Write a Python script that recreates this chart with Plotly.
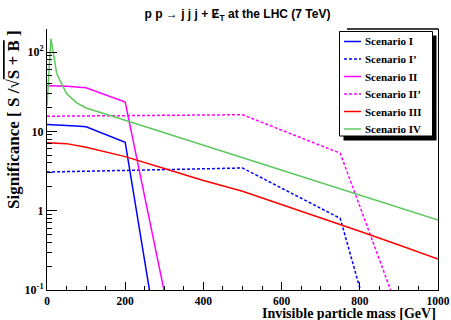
import plotly.graph_objects as go

# ---- data ----
mass_I = [0, 25, 50, 75, 100, 200, 250, 300]
sig_I = [12.2, 12.1, 11.9, 11.7, 11.4, 7.3, 0.23, 0.0072]

mass_Ip = [0, 100, 200, 300, 400, 500, 750, 800, 850]
sig_Ip = [3.07, 3.15, 3.25, 3.35, 3.42, 3.45, 0.80, 0.109, 0.014]

mass_II = [0, 50, 100, 200, 300]
sig_II = [37.5, 37.0, 35.5, 23.4, 0.095]

mass_IIp = [0, 100, 200, 300, 400, 500, 750, 800, 900]
sig_IIp = [15.5, 15.7, 15.9, 16.1, 16.2, 16.2, 5.3, 1.14, 0.052]

mass_III = [0, 50, 100, 200, 300, 400, 500, 600, 700, 800, 900, 1000]
sig_III = [7.2, 7.0, 6.3, 4.8, 3.4, 2.4, 1.76, 1.2, 0.82, 0.55, 0.37, 0.245]

mass_IV = [0, 10, 25, 50, 75, 100, 200, 300, 400, 500, 600, 700, 800, 900, 1000]
sig_IV = [21, 147, 53, 30, 23, 19.7, 13.8, 9.6, 6.7, 4.7, 3.27, 2.27, 1.58, 1.1, 0.76]

y_tickvals = [0.1, 1, 10, 100]
y_ticktext = ["<b>10<sup>-1</sup></b>", "<b>1</b>", "<b>10</b>", "<b>10<sup>2</sup></b>"]
x_tickvals = [0, 200, 400, 600, 800, 1000]
x_ticktext = ["<b>0</b>", "<b>200</b>", "<b>400</b>", "<b>600</b>", "<b>800</b>", "<b>1000</b>"]

names = ["Scenario I", "Scenario I\u2019", "Scenario II", "Scenario II\u2019", "Scenario III", "Scenario IV"]
masses = [mass_I, mass_Ip, mass_II, mass_IIp, mass_III, mass_IV]
sigs = [sig_I, sig_Ip, sig_II, sig_IIp, sig_III, sig_IV]
colors = ["#0000ff", "#0000ff", "#ff00ff", "#ff00ff", "#ff0000", "#5cc85c"]
dashes = ["solid", "3px,2px", "solid", "3px,2px", "solid", "solid"]

W, H = 451, 320
L, R, T, B = 47, 13, 29, 30
PW, PH = W - L - R, H - T - B


def px_x(px):
    return (px - L) / PW


def px_y(py):
    return (H - B - py) / PH


fig = go.Figure()
for name, x, y, col, dash in zip(names, masses, sigs, colors, dashes):
    fig.add_trace(go.Scatter(x=x, y=y, mode="lines", name=name,
                             line=dict(color=col, width=1.5, dash=dash)))

serif = "Liberation Serif"
fig.update_layout(
    width=W, height=H,
    margin=dict(l=L, r=R, t=T, b=B, autoexpand=False),
    paper_bgcolor="white", plot_bgcolor="white",
    showlegend=False,
    title=dict(text="<b>p p \u2192 j j j + \u0246<sub>T</sub> at the LHC (7 TeV)</b>",
               x=237.5 / W, xanchor="center", y=1 - 14 / H, yanchor="middle",
               font=dict(family="Liberation Sans", size=12, color="black")),
    xaxis=dict(range=[0, 1000], tickvals=x_tickvals, ticktext=x_ticktext, automargin=False,
               ticks="inside", ticklen=8, tickwidth=1, tickcolor="black",
               showline=True, linecolor="black", linewidth=1, mirror=False,
               showgrid=False, zeroline=False,
               tickfont=dict(family=serif, size=11.5, color="black"),
               minor=dict(ticks="inside", ticklen=4, dtick=50, tickcolor="black", showgrid=False),
               title=None),
    yaxis=dict(type="log", range=[-1, 2.29], tickvals=y_tickvals, ticktext=y_ticktext, automargin=False,
               ticks="inside", ticklen=10, tickwidth=1, tickcolor="black",
               showline=True, linecolor="black", linewidth=1, mirror=True,
               showgrid=False, zeroline=False,
               tickfont=dict(family=serif, size=12, color="black"),
               minor=dict(ticks="inside", ticklen=5, dtick="D1", tickcolor="black", showgrid=False),
               title=None),
)

# axis titles (ROOT style: aligned to the axis end)
fig.add_annotation(text="<b>Invisible particle mass [GeV]</b>", xref="paper", yref="paper",
                   x=px_x(438), y=px_y(314), xanchor="right", yanchor="middle", showarrow=False,
                   font=dict(family=serif, size=14, color="black"))
fig.add_annotation(text="<b>Significance [ S /\u221a<span style='text-decoration:overline'>S + B</span> ]</b>",
                   xref="paper", yref="paper", x=px_x(2), y=px_y(28), xanchor="left", yanchor="top",
                   textangle=-90, showarrow=False,
                   font=dict(family=serif, size=17, color="black"))

# partial top frame
fig.add_shape(type="line", xref="paper", yref="paper", x0=px_x(347), x1=px_x(438.5),
              y0=px_y(29), y1=px_y(29), line=dict(color="black", width=1.5))

# legend drawn by hand: shadow, box, samples, labels
bx0, bx1, by0, by1 = 339.5, 432.5, 31.5, 136
fig.add_shape(type="rect", xref="paper", yref="paper", layer="above",
              x0=px_x(bx0 + 4), x1=px_x(bx1 + 4), y0=px_y(by1 + 4.5), y1=px_y(by0 + 4),
              fillcolor="black", line=dict(width=0))
fig.add_shape(type="rect", xref="paper", yref="paper", layer="above",
              x0=px_x(bx0), x1=px_x(bx1), y0=px_y(by1), y1=px_y(by0),
              fillcolor="white", line=dict(color="black", width=1))
row_y = [41.5, 59, 76.5, 94, 111.5, 129]
for name, col, dash, ry in zip(names, colors, dashes, row_y):
    fig.add_shape(type="line", xref="paper", yref="paper", layer="above",
                  x0=px_x(344), x1=px_x(361), y0=px_y(ry), y1=px_y(ry),
                  line=dict(color=col, width=1.5, dash=dash))
    fig.add_annotation(text="<b>" + name + "</b>", xref="paper", yref="paper",
                       x=px_x(362.5), y=px_y(ry), xanchor="left", yanchor="middle",
                       showarrow=False, font=dict(family=serif, size=11, color="black"))

fig.write_html("out.html", config={"displayModeBar": False},
               post_script="document.body.style.margin='0';")
